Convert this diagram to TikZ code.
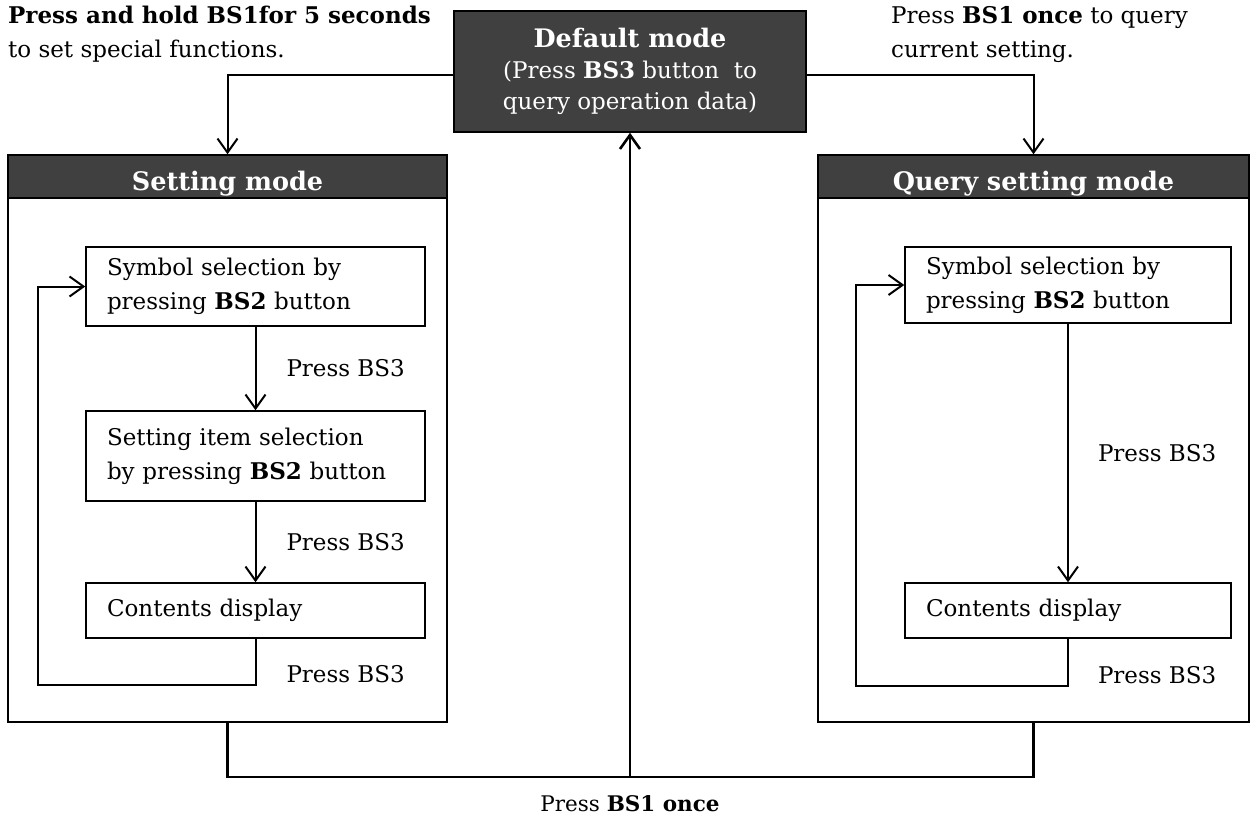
\documentclass[tikz,border=0pt]{standalone}
\usepackage{fontspec}
\setmainfont{DejaVu Serif}
\usetikzlibrary{arrows.meta,positioning}

\definecolor{boxgray}{HTML}{404040}
\newcommand{\diagfont}{\fontsize{23}{34}\selectfont}
\newcommand{\headfont}{\fontsize{25.5}{30}\selectfont\bfseries}

\tikzset{
  darkbox/.style={fill=boxgray, draw=black, line width=1.5pt, text=white},
  headbox/.style={darkbox, minimum height=43, anchor=north, font=\headfont, text height=28pt, text depth=0pt, inner ysep=0pt},
  frame/.style={draw=black, line width=1.5pt},
  stepbox/.style={draw=black, line width=1.5pt, align=left, inner xsep=21pt},
  flow/.style={line width=2pt},
  thickflow/.style={line width=2.6pt},
  lbl/.style={inner sep=0pt}
}

\begin{document}
\begin{tikzpicture}[x=1pt,y=-1pt,>={Straight Barb[length=14pt,width=20pt]},
  every node/.style={font=\diagfont}]
\useasboundingbox (0,0) rectangle (1257,821);

\node (default) [darkbox, minimum width=352, minimum height=121, align=center,
  font=\fontsize{23}{31}\selectfont] at (630,71.5)
  {{\headfont Default mode}\\(Press \textbf{BS3} button~ to\\query operation data)};

\node (setting) [frame, minimum width=439, minimum height=567] at (227.5,438.5) {};
\node (sethead) [headbox, minimum width=439] at (setting.north) {Setting mode};
\node (query) [frame, minimum width=431, minimum height=567] at (1033.5,438.5) {};
\node (qryhead) [headbox, minimum width=431] at (query.north) {Query setting mode};

\node (sym1) [stepbox, text width=297, minimum height=79] at (255.5,286.5) {Symbol selection by\\pressing \textbf{BS2} button};
\node (item1) [stepbox, text width=297, minimum height=90] at (255.5,456) {Setting item selection\\by pressing \textbf{BS2} button};
\node (cont1) [stepbox, text width=297, minimum height=55] at (255.5,610.5) {Contents display};

\node (sym2) [stepbox, text width=284, minimum height=76] at (1068,285) {Symbol selection by\\pressing \textbf{BS2} button};
\node (cont2) [stepbox, text width=284, minimum height=55] at (1068,610.5) {Contents display};

\coordinate (loop1) at (38,685);
\coordinate (loop2) at (856,686);
\coordinate (bot) at (630,777);

\node (holdtxt) [lbl, anchor=north west, align=left] at (8,6) {\textbf{Press and hold BS1for 5 seconds}\\to set special functions.};
\node (querytxt) [lbl, anchor=north west, align=left] at (891,6) {Press \textbf{BS1 once} to query\\current setting.};

\draw[flow,->] ([yshift=-3.5pt]default.west) -| (sethead.north);
\draw[flow,->] ([yshift=-3.5pt]default.east) -| (qryhead.north);

\draw[flow,->] (sym1) -- node[lbl, right=30pt] {Press BS3} (item1);
\draw[flow,->] (item1) -- node[lbl, right=30pt] {Press BS3} (cont1);
\draw[flow,->] (cont1.south) |- node[lbl, pos=0.38, right=30pt] {Press BS3} (loop1) |- (sym1.west);

\draw[flow,->] (sym2) -- node[lbl, right=29pt] {Press BS3} (cont2);
\draw[flow,->] (cont2.south) |- node[lbl, pos=0.38, right=29pt] {Press BS3} (loop2) |- (sym2.west);

\draw[thickflow] (setting.south) |- (bot) -| (query.south);
\draw[thickflow,->] (bot) -- (default.south);
\node (bs1) [below=15pt of bot, font=\fontsize{21.5}{30}\selectfont] {Press \textbf{BS1 once}};
\end{tikzpicture}
\end{document}
